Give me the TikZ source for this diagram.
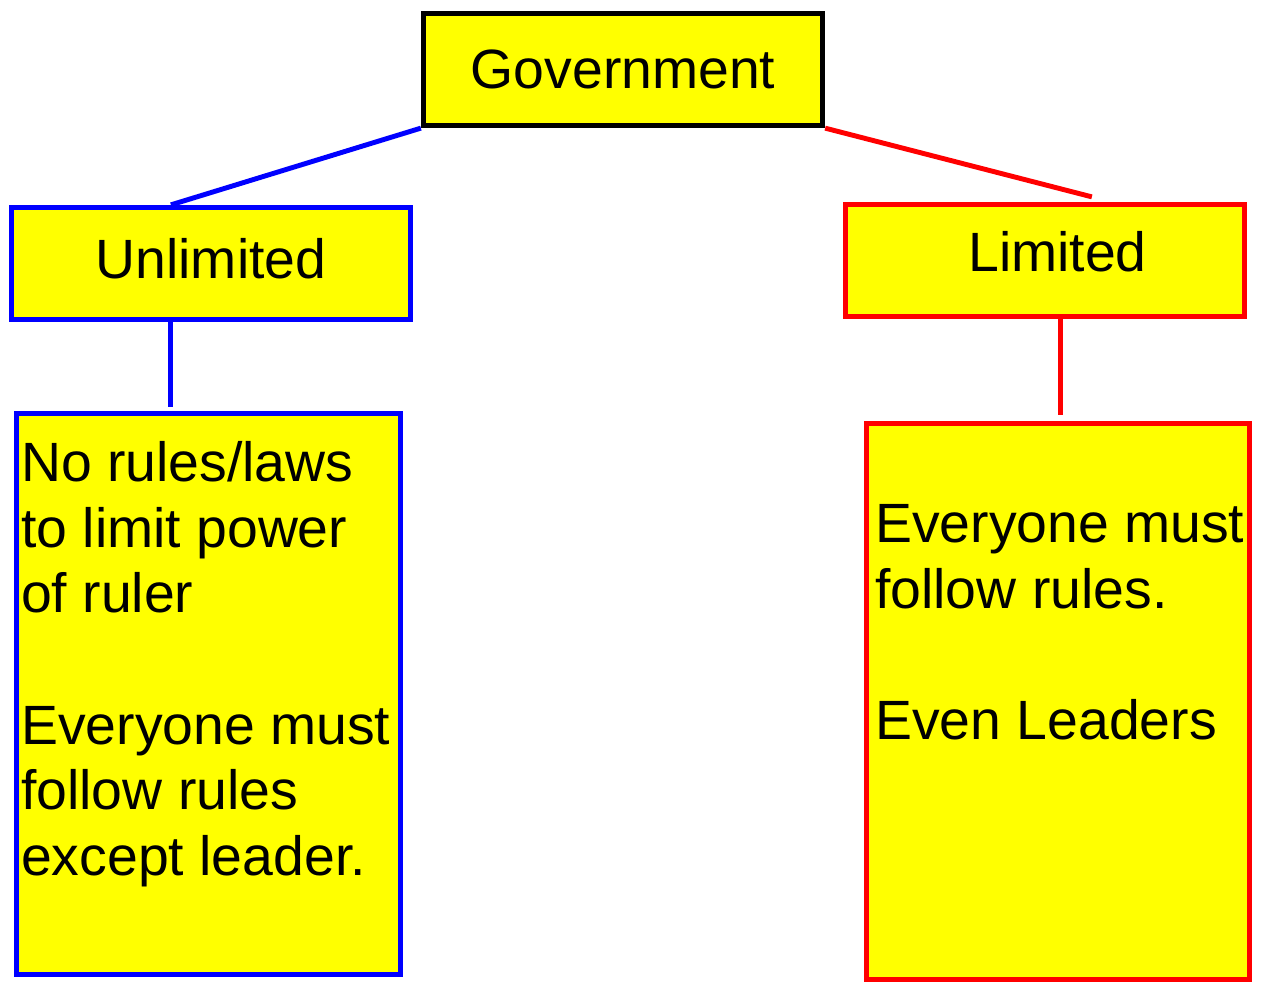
\documentclass[tikz,border=0pt]{standalone}
\usepackage{fontspec}
\setmainfont{Liberation Sans}
\definecolor{boxyellow}{RGB}{255,255,0}
\begin{document}
\begin{tikzpicture}[
  box/.style={draw,fill=boxyellow,line width=3pt,inner sep=0pt,
    font=\fontsize{31.5}{37.4}\selectfont},
  txt/.style={anchor=north west,inner sep=0pt,align=left,
    font=\fontsize{31.5}{37.4}\selectfont},
  link/.style={line width=2.8pt}
]
\useasboundingbox (0,0) rectangle (25.24,-19.66);
\coordinate (G) at (12.46,-1.39);
\coordinate (U) at (4.22,-5.27);
\coordinate (L) at (20.9,-5.21);
\coordinate (UB) at (4.17,-13.88);
\coordinate (LB) at (21.16,-14.03);
\node[box,draw=black,minimum width=7.98cm,minimum height=2.24cm] (gov) at (G) {Government};
\node[box,draw=blue,minimum width=7.98cm,minimum height=2.24cm,text depth=0.2cm] (unl) at (U) {Unlimited};
\node[box,draw=red,minimum width=7.98cm,minimum height=2.24cm,text depth=0.35cm] (lim) at (L) {\hspace{0.5cm}Limited};
\node[box,draw=blue,minimum width=7.68cm,minimum height=11.22cm] (unlbox) at (UB) {};
\node[box,draw=red,minimum width=7.66cm,minimum height=11.12cm] (limbox) at (LB) {};
\node[txt] (unltxt) at ([xshift=0.14cm,yshift=-0.6cm]unlbox.north west)
  {No rules/laws\\to limit power\\of ruler\\[37.4pt]Everyone must\\follow rules\\except leader.};
\node[txt] (limtxt) at ([xshift=0.22cm,yshift=-1.66cm]limbox.north west)
  {Everyone must\\follow rules.\\[37.4pt]Even Leaders};
\draw[link,blue] (gov.south west)--([xshift=3.24cm]unl.north west);
\draw[link,red] (gov.south east)--([xshift=4.98cm,yshift=0.1cm]lim.north west);
\draw[link,blue] ([xshift=3.24cm]unl.south west) coordinate (u1)--([yshift=0.08cm]u1 |- unlbox.north);
\draw[link,red] ([xshift=4.36cm]lim.south west) coordinate (l1)--([yshift=0.12cm]l1 |- limbox.north);
\end{tikzpicture}
\end{document}
